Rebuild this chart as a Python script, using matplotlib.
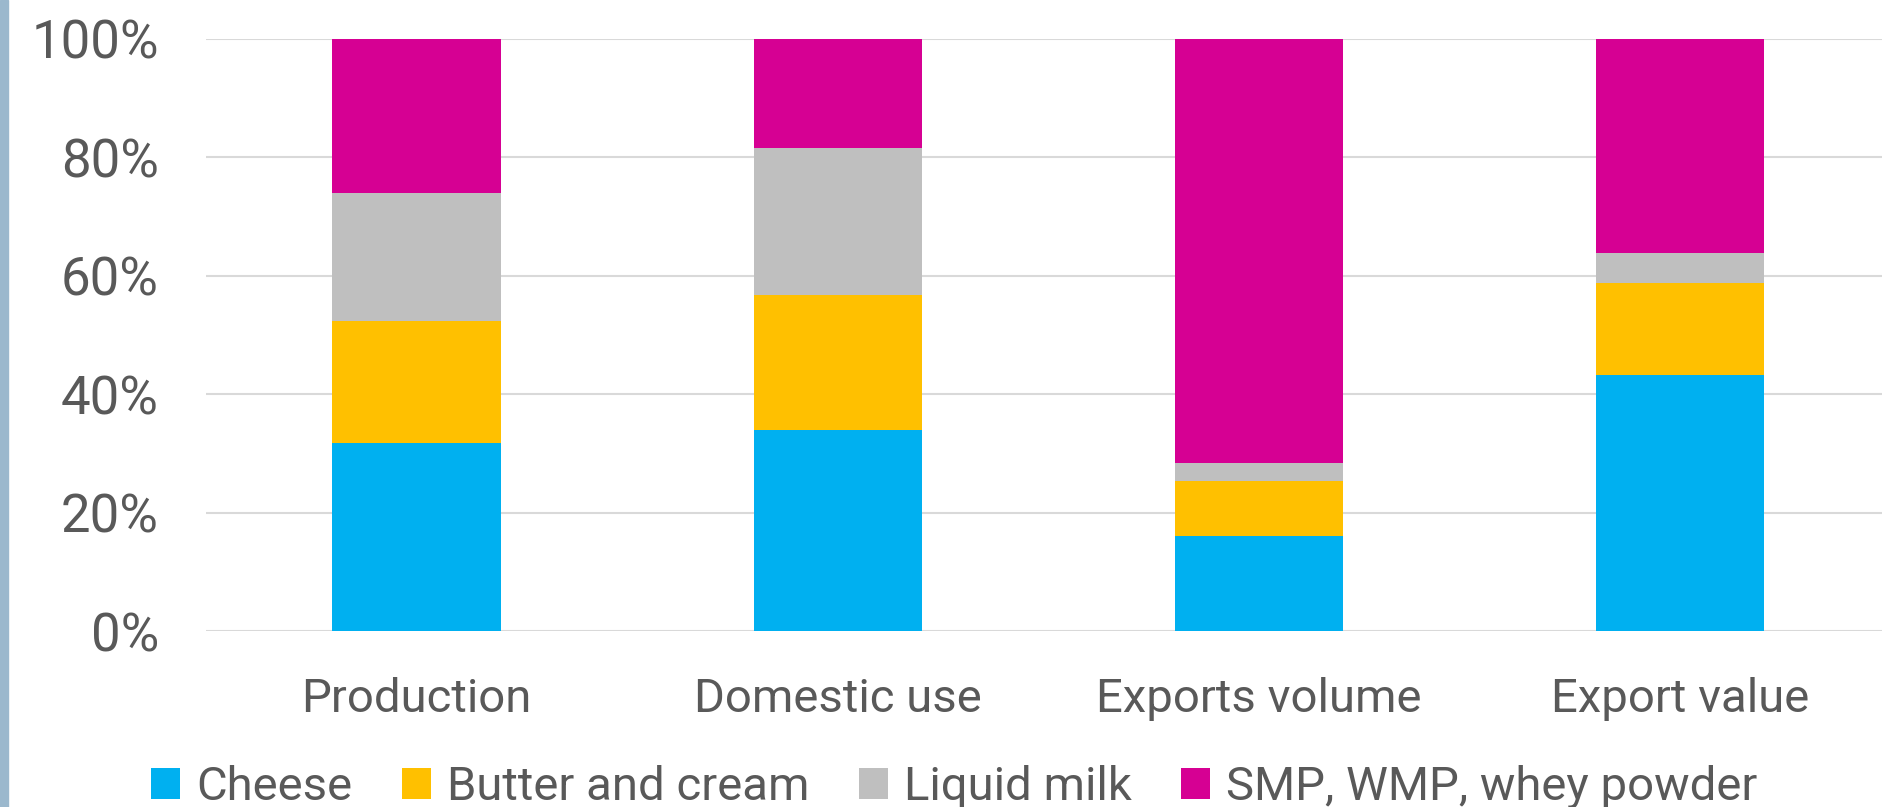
import matplotlib
matplotlib.use("Agg")
import matplotlib.pyplot as plt
from matplotlib.patches import Rectangle
from matplotlib.ticker import PercentFormatter
import numpy as np

plt.rcParams["font.family"] = ["Roboto", "DejaVu Sans"]

# shares of each product group (fraction of total)
categories = ["Production", "Domestic use", "Exports volume", "Export value"]
cheese = [0.318, 0.340, 0.160, 0.433]
butter_cream = [0.206, 0.228, 0.093, 0.155]
liquid_milk = [0.215, 0.248, 0.031, 0.050]
powders = [0.261, 0.184, 0.716, 0.362]

series = [
    ("Cheese", cheese, "#00B0F0"),
    ("Butter and cream", butter_cream, "#FFC000"),
    ("Liquid milk", liquid_milk, "#BFBFBF"),
    ("SMP, WMP, whey powder", powders, "#D60093"),
]

text_col = "#595959"

fig = plt.figure(figsize=(18.82, 8.07), dpi=100)
ax = fig.add_axes([0.1095, 0.218, 0.8952, 0.7342])

x = np.arange(len(categories))
bottom = np.zeros(len(categories))
for name, vals, col in series:
    ax.bar(x, vals, width=0.4, bottom=bottom, color=col, label=name, zorder=3)
    bottom += np.array(vals)

ax.set_xlim(-0.5, len(categories) - 0.5)
ax.set_ylim(0, 1)
ax.set_yticks(np.arange(0, 1.01, 0.2))
ax.yaxis.set_major_formatter(PercentFormatter(1.0, decimals=0))
ax.set_xticks(x)
ax.set_xticklabels(categories)
ax.grid(axis="y", color="#D9D9D9", linewidth=1.5, zorder=0)
ax.tick_params(axis="both", length=0, colors=text_col)
ax.tick_params(axis="y", pad=34, labelsize=38)
ax.tick_params(axis="x", pad=33, labelsize=34)
for s in ax.spines.values():
    s.set_visible(False)

leg = fig.legend(
    loc="center", bbox_to_anchor=(0.507, 0.0245), ncol=4, frameon=False,
    fontsize=34, handlelength=0.61, handleheight=0.61, handletextpad=0.34,
    columnspacing=1.05, labelcolor=text_col,
)

# thin blue strip at the left edge
fig.patches.append(Rectangle((0, 0), 0.004, 1, transform=fig.transFigure,
                             color="#9BB8CD", zorder=0))

fig.savefig("out.png", dpi=100)
